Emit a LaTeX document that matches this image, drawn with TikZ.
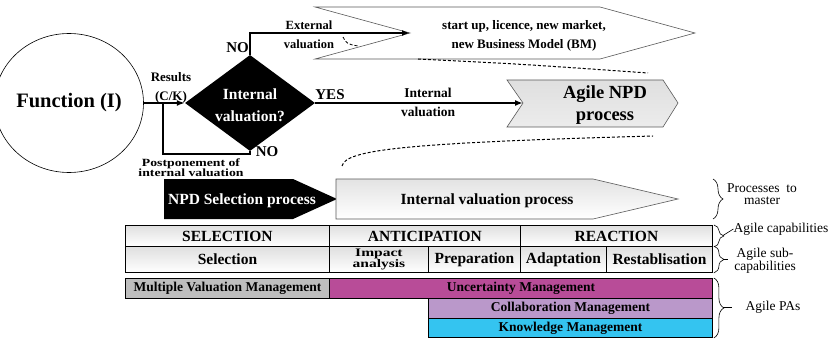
\documentclass[tikz,border=0pt]{standalone}
\usepackage{fontspec}
\setmainfont{Liberation Serif}
\usepackage{graphicx}
\usepackage{tikz}
\usetikzlibrary{positioning}
\usetikzlibrary{calc}
\usetikzlibrary{shapes.geometric}
\usetikzlibrary{arrows.meta}
\usetikzlibrary{decorations.pathreplacing}

\definecolor{uncert}{RGB}{184,76,152}
\definecolor{collab}{RGB}{186,152,202}
\definecolor{knowl}{RGB}{52,196,240}
\definecolor{mvm}{RGB}{190,190,190}

\newcommand{\bfsize}[2]{\bfseries\fontsize{#1}{#2}\selectfont}

\begin{document}
\begin{tikzpicture}[x=1pt, y=-1pt,
    flow/.style={line width=1.8pt},
    arr/.style={flow, -{Latex[length=8pt,width=6pt]}},
    lbl/.style={inner sep=0pt, align=center},
    chev/.style={draw=gray!70!black, line width=0.6pt},
    zoomline/.style={dash pattern=on 3pt off 2pt, line width=1pt},
    cell/.style={draw, line width=0.9pt, anchor=north west, inner sep=0pt,
        top color=gray!25, bottom color=white, font=\bfsize{15.5}{16}},
    pa/.style={draw, line width=0.9pt, anchor=north west, inner sep=0pt,
        minimum height=20pt, font=\bfsize{13.5}{14}},
    brc/.style={decorate, decoration={brace, amplitude=10pt}, line width=0.6pt},
    side/.style={inner sep=0pt, align=center, font=\fontsize{13.5}{12.5}\selectfont}]

    \useasboundingbox (0,0) rectangle (834,339);

    % valuation decision
    \node[draw, ellipse, line width=0.6pt, minimum width=126pt, minimum height=139pt,
        inner sep=0pt, font=\bfsize{20.5}{22}] (fn) at (69,103) {Function (I)};
    \node[diamond, fill=black, minimum width=130pt, minimum height=96pt, inner sep=0pt] (dec) at (250,103) {};
    \node[lbl, text=white, font=\bfsize{15.5}{22}] (q) at (250,105) {Internal\\valuation?};

    \coordinate (jn) at (163,103);
    \coordinate (en) at (410,33);
    \coordinate (an) at (523,103);

    % target processes
    \draw[chev, fill=white] (315,7) -- (600,7) -- (695,33) -- (600,59) -- (315,59) -- (en) -- cycle;
    \node[lbl, font=\bfsize{13}{19.5}] (ext) at (524,36) {start up, licence, new market,\\new Business Model (BM)};

    \draw[chev, top color=gray!25, middle color=white, bottom color=gray!15]
        (507,80) -- (663,80) -- (678,103) -- (663,127) -- (507,127) -- (an) -- cycle;
    \node[lbl, font=\bfsize{18.5}{22}] (npd) at (605,105) {Agile NPD\\process};

    \draw[arr] (fn.east) -- (dec.west);
    \draw[flow] (dec.south) -- ++(0,3) -| (jn);
    \draw[arr] (dec.north) |- (en);
    \draw[arr] (dec.east) -- (an);

    \node[lbl, font=\bfsize{15}{16}, anchor=east] (no1) at (249,48) {NO};
    \node[lbl, font=\bfsize{15}{16}] (no2) at (267,152) {NO};
    \node[lbl, font=\bfsize{15}{16}] (yes) at (330,95) {YES};
    \node[lbl, font=\bfsize{13}{19}] (res) at (171,88) {Results\\(C/K)};
    \node[lbl, font=\bfsize{12.5}{19}] (extl) at (309,35) {External\\valuation};
    \node[lbl, font=\bfsize{13.5}{19}] (intl) at (428,102) {Internal\\valuation};
    \node[lbl, font=\bfsize{11}{10}] (post) at (191,168) {\scalebox{1.25}[1]{Postponement of}\\\scalebox{1.25}[1]{internal valuation}};

    \draw[zoomline, line width=0.8pt] (343,37) .. controls (347,44) .. (358,46);
    \draw[zoomline] (418,59) .. controls (520,64) .. (648,73);
    \draw[zoomline] (342,166) .. controls (346,150) and (400,143) .. (653,136);

    % processes to master
    \fill[black] (164,179) -- (293,179) -- (337,199) -- (293,219) -- (164,219) -- cycle;
    \node[lbl, text=white, font=\bfsize{15.5}{16}] (sel) at (242,201) {NPD Selection process};
    \draw[chev, top color=gray!22, bottom color=white]
        (336,179) -- (593,179) -- (678,199) -- (593,219) -- (336,219) -- cycle;
    \node[lbl, font=\bfsize{15.5}{16}] (ivp) at (487,201) {Internal valuation process};

    % capabilities
    \foreach \n/\x/\w/\t in {1/125/204/SELECTION, 2/329/191/ANTICIPATION, 3/520/192/REACTION}
        \node[cell, minimum width=\w pt, minimum height=21pt] (c\n) at (\x,225) {\t};
    \foreach \n/\x/\w/\t in {1/125/204/Selection, 3/428/92/Preparation, 4/520/86/Adaptation, 5/606/106/Restablisation}
        \node[cell, minimum width=\w pt, minimum height=26pt] (s\n) at (\x,246) {\t};
    \node[cell, minimum width=99pt, minimum height=26pt, align=center, font=\bfsize{11.5}{10.5}] (s2) at (329,246)
        {\scalebox{1.35}[1]{Impact}\\\scalebox{1.35}[1]{analysis}};

    % practice areas
    \node[pa, fill=mvm, minimum width=204pt] (p1) at (125,278) {Multiple Valuation Management};
    \node[pa, fill=uncert, minimum width=383pt] (p2) at (329,278) {Uncertainty Management};
    \node[pa, fill=collab, minimum width=284pt] (p3) at (428,298) {Collaboration Management};
    \node[pa, fill=knowl, minimum width=284pt, minimum height=19pt] (p4) at (428,318) {Knowledge Management};

    % braces
    \draw[brc] (713,179) -- (713,219);
    \draw[brc] ([xshift=1pt]c3.north east) -- ([xshift=1pt]c3.south east);
    \draw[brc] ([xshift=1pt]s5.north east) -- ([xshift=1pt]s5.south east);
    \draw[brc] ([xshift=1pt]p2.north east) -- ([xshift=1pt]p4.south east);

    \node[side] (m1) at (762,194) {Processes\ \ to\\master};
    \node[side] (m2) at (781,229) {Agile capabilities};
    \node[side] (m3) at (765,261) {Agile sub-\\capabilities};
    \node[side] (m4) at (773,307) {Agile PAs};

    \draw[line width=0.6pt] (723,235.5) -- (m2.west);
    \draw[line width=0.6pt] (723,259) -- (728,259);
    \draw[line width=0.6pt] (723,307.5) -- (732,307.5);

\end{tikzpicture}
\end{document}
